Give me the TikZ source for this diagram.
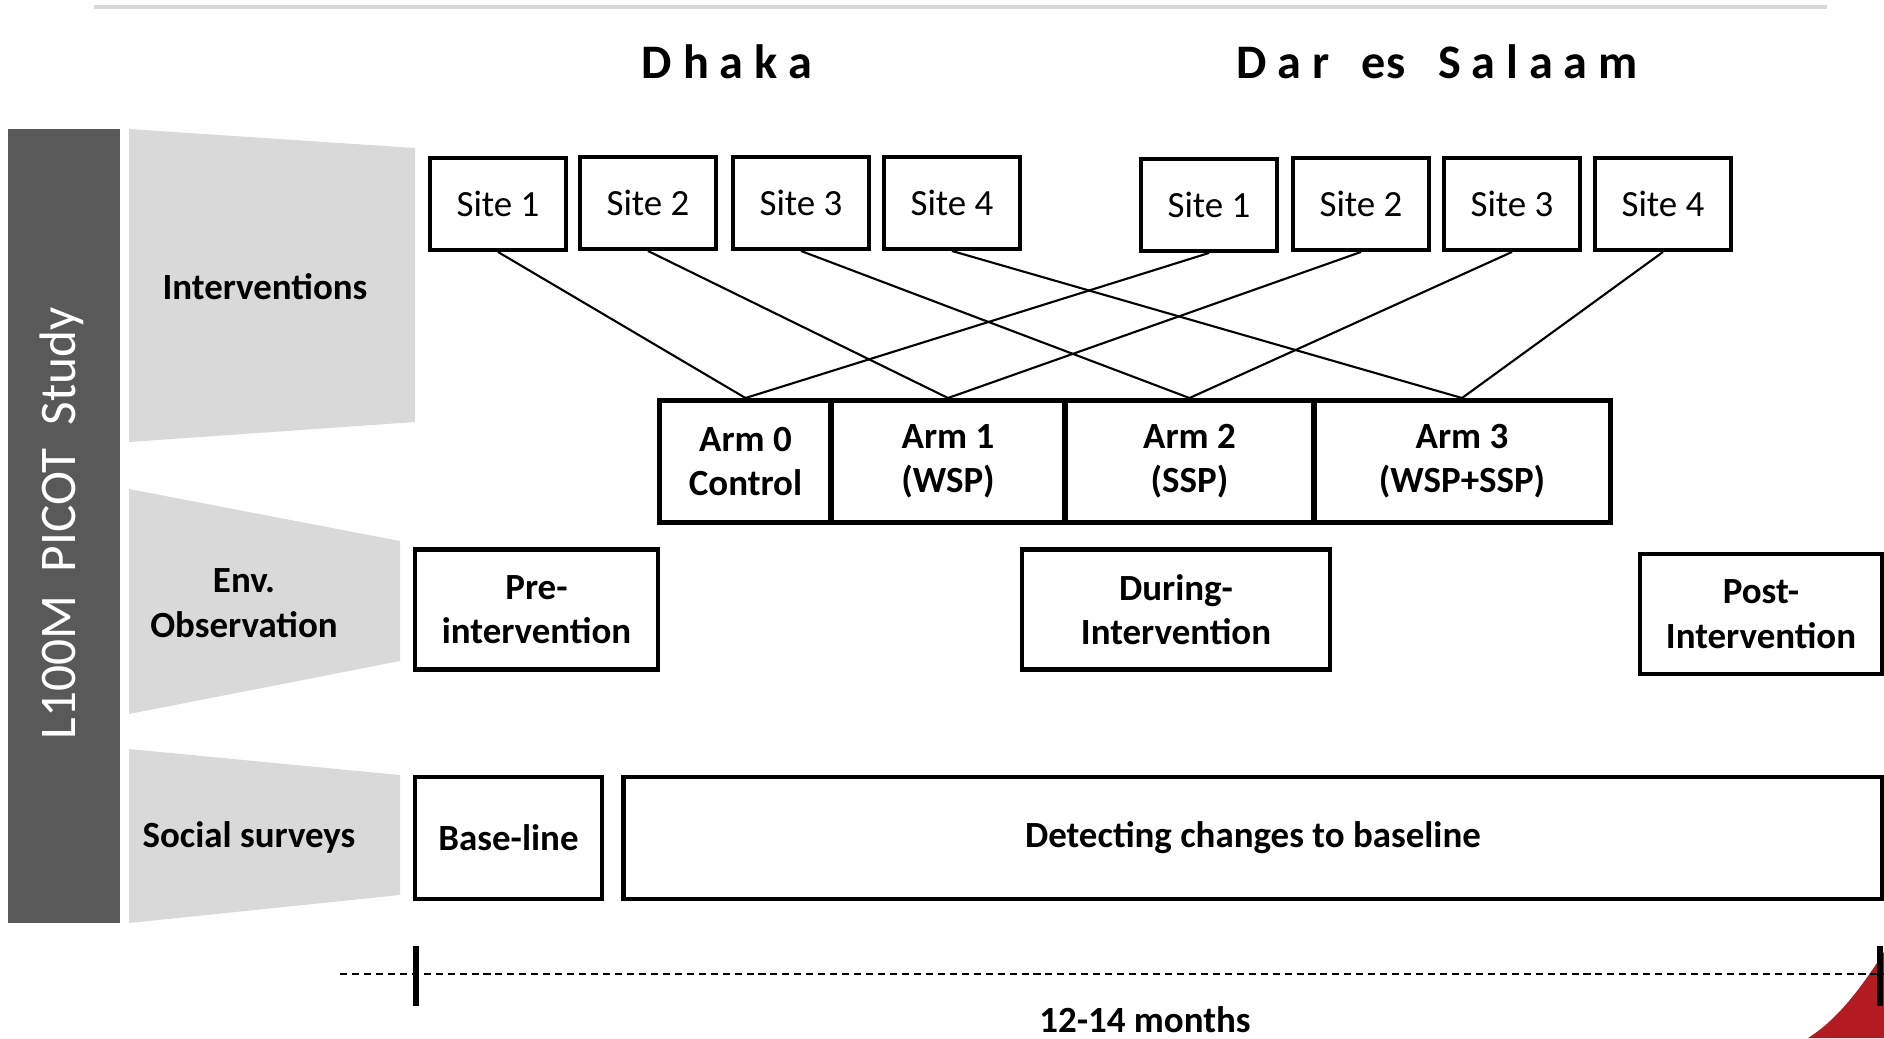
\documentclass[tikz,border=0pt]{standalone}
\usepackage{fontspec}
\setmainfont{Carlito}
\usepackage{tikz}
\usetikzlibrary{calc}

\definecolor{bardark}{RGB}{89,89,89}
\definecolor{panelgray}{RGB}{217,217,217}
\definecolor{cornerred}{RGB}{178,27,34}

\tikzset{
    sitebox/.style={draw, line width=1.1pt, minimum width=1.36cm, minimum height=0.92cm, inner sep=0pt, font=\fontsize{10.5}{13}\selectfont},
    armbox/.style={draw, line width=1.4pt, minimum height=1.22cm, inner sep=0pt, align=center, font=\fontsize{10.5}{12.6}\selectfont\bfseries},
    phasebox/.style={draw, line width=1.3pt, minimum height=1.2cm, inner sep=0pt, align=center, font=\fontsize{10.5}{12.6}\selectfont\bfseries},
    rowlabel/.style={align=center, font=\fontsize{10.5}{12.6}\selectfont\bfseries},
    citylabel/.style={font=\fontsize{13.7}{16}\selectfont\bfseries},
    link/.style={line width=0.6pt},
}

\begin{document}
\begin{tikzpicture}[x=0.01cm, y=-0.01cm]

    \useasboundingbox (0,0) rectangle (1884,1038);

    % Top rule
    \draw [line width=1.1pt, panelgray] (94,7) -- (1827,7);

    % Cities
    \node [citylabel] (dhaka) at (727,62) {D h a k a};
    \node [citylabel] (dar) at (1437,62) {D a r \ \ es \ \ S a l a a m};

    % Left bar and gray panels
    \fill [bardark] (8,129) rectangle (120,923);
    \node [rotate=90, white] (study) at (62,523) {\fontsize{14.6}{17}\selectfont L100M \ PICOT \ Study};

    \fill [panelgray] (129,129) -- (415,148) -- (415,422) -- (129,442) -- cycle;
    \fill [panelgray] (129,489) -- (400,541) -- (400,661) -- (129,714) -- cycle;
    \fill [panelgray] (129,749) -- (400,775) -- (400,895) -- (129,923) -- cycle;

    \node [rowlabel] (interv) at (265,287) {Interventions};
    \node [rowlabel] (envobs) at (244,603) {Env.\\Observation};
    \node [rowlabel] (social) at (249,837) {Social surveys};

    % Sites
    \node [sitebox] (d1) at (498,204) {Site 1};
    \node [sitebox] (d2) at (648,203) {Site 2};
    \node [sitebox] (d3) at (801,203) {Site 3};
    \node [sitebox] (d4) at (952,203) {Site 4};
    \node [sitebox] (dar1) at (1209,205) {Site 1};
    \node [sitebox] (dar2) at (1361,204) {Site 2};
    \node [sitebox] (dar3) at (1512,204) {Site 3};
    \node [sitebox] (dar4) at (1663,204) {Site 4};

    % Arms
    \node [armbox, minimum width=1.71cm] (arm0) at (745.5,461.5) {Arm 0\\Control};
    \node [armbox, minimum width=2.34cm] (arm1) at (948,461.5) {Arm 1\\(WSP)};
    \node [armbox, minimum width=2.49cm] (arm2) at (1189.5,461.5) {Arm 2\\(SSP)};
    \node [armbox, minimum width=2.96cm] (arm3) at (1462,461.5) {Arm 3\\(WSP+SSP)};

    \draw [link] (d1.south) -- (arm0.north);
    \draw [link] (d2.south) -- (arm1.north);
    \draw [link] (d3.south) -- (arm2.north);
    \draw [link] (d4.south) -- (arm3.north);
    \draw [link] (dar1.south) -- (arm0.north);
    \draw [link] (dar2.south) -- (arm1.north);
    \draw [link] (dar3.south) -- (arm2.north);
    \draw [link] (dar4.south) -- (arm3.north);

    % Observation phases
    \node [phasebox, minimum width=2.43cm] (pre) at (536.5,609.5) {Pre-\\intervention};
    \node [phasebox, minimum width=3.08cm] (during) at (1176,609.5) {During-\\Intervention};
    \node [phasebox, minimum width=2.42cm] (post) at (1761,614) {Post-\\Intervention};

    % Surveys
    \node [phasebox, minimum width=1.87cm, minimum height=1.22cm] (base) at (508.5,838) {Base-line};
    \node [phasebox, minimum width=12.58cm, minimum height=1.22cm] (detect) at (1253,838) {Detecting changes to baseline};

    % Red corner
    \fill [cornerred] (1884,952) .. controls (1858,993) and (1835,1021) .. (1808,1038) -- (1884,1038) -- cycle;

    % Time line
    \coordinate (tl) at (340,974);
    \coordinate (tr) at (1884,974);
    \coordinate (t0) at (416,974);
    \coordinate (t1) at (1880,974);
    \draw [line width=0.6pt, dash pattern=on 2pt off 1.4pt] (tl) -- (tr);
    \draw [line width=1.8pt] ($(t0)+(0,-28)$) -- ($(t0)+(0,32)$);
    \draw [line width=1.8pt] ($(t1)+(0,-28)$) -- ($(t1)+(0,32)$);
    \node [rowlabel, inner sep=1pt] (months) at (1145,1020) {12-14 months};

\end{tikzpicture}
\end{document}
